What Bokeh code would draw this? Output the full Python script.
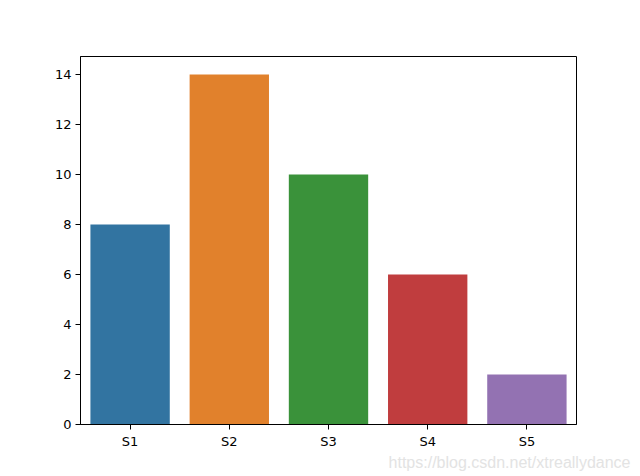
from bokeh.plotting import figure
from bokeh.models import ColumnDataSource, Range1d, Title
from bokeh.embed import file_html
from bokeh.resources import INLINE

categories = ["S1", "S2", "S3", "S4", "S5"]
values = [8, 14, 10, 6, 2]
colors = ["#3274a1", "#e1812c", "#3a923a", "#c03d3e", "#9372b2"]
y_ticks = [0, 2, 4, 6, 8, 10, 12, 14]

src = ColumnDataSource(dict(cat=categories, val=values, color=colors))

p = figure(x_range=categories, width=632, height=471, output_backend="svg",
           toolbar_location=None, min_border_left=80, min_border_top=56,
           min_border_right=56, min_border_bottom=47)
p.y_range = Range1d(0, 14.72)
p.x_range.range_padding = 0
p.vbar(x="cat", top="val", width=0.8, color="color", source=src, line_color=None)

p.xgrid.visible = False
p.ygrid.visible = False
p.outline_line_color = "black"
p.outline_line_width = 1
p.outline_line_alpha = 1
p.yaxis.ticker = y_ticks
for ax in (p.xaxis[0], p.yaxis[0]):
    ax.major_label_text_font = "DejaVu Sans"
    ax.major_label_text_font_size = "13px"
    ax.major_label_text_color = "black"
    ax.major_tick_out = 5
    ax.major_tick_in = 0
    ax.minor_tick_out = 0
    ax.minor_tick_in = 0
    ax.axis_line_color = "black"
    ax.major_tick_line_color = "black"
    ax.major_label_standoff = 4

p.add_layout(Title(text="https://blog.csdn.net/xtreallydance", align="right",
                   text_font="Liberation Sans", text_font_size="16px",
                   text_font_style="normal", text_color="#e3e3e3",
                   offset=-54, standoff=0), "below")

open("out.html", "w").write(file_html(p, INLINE))
